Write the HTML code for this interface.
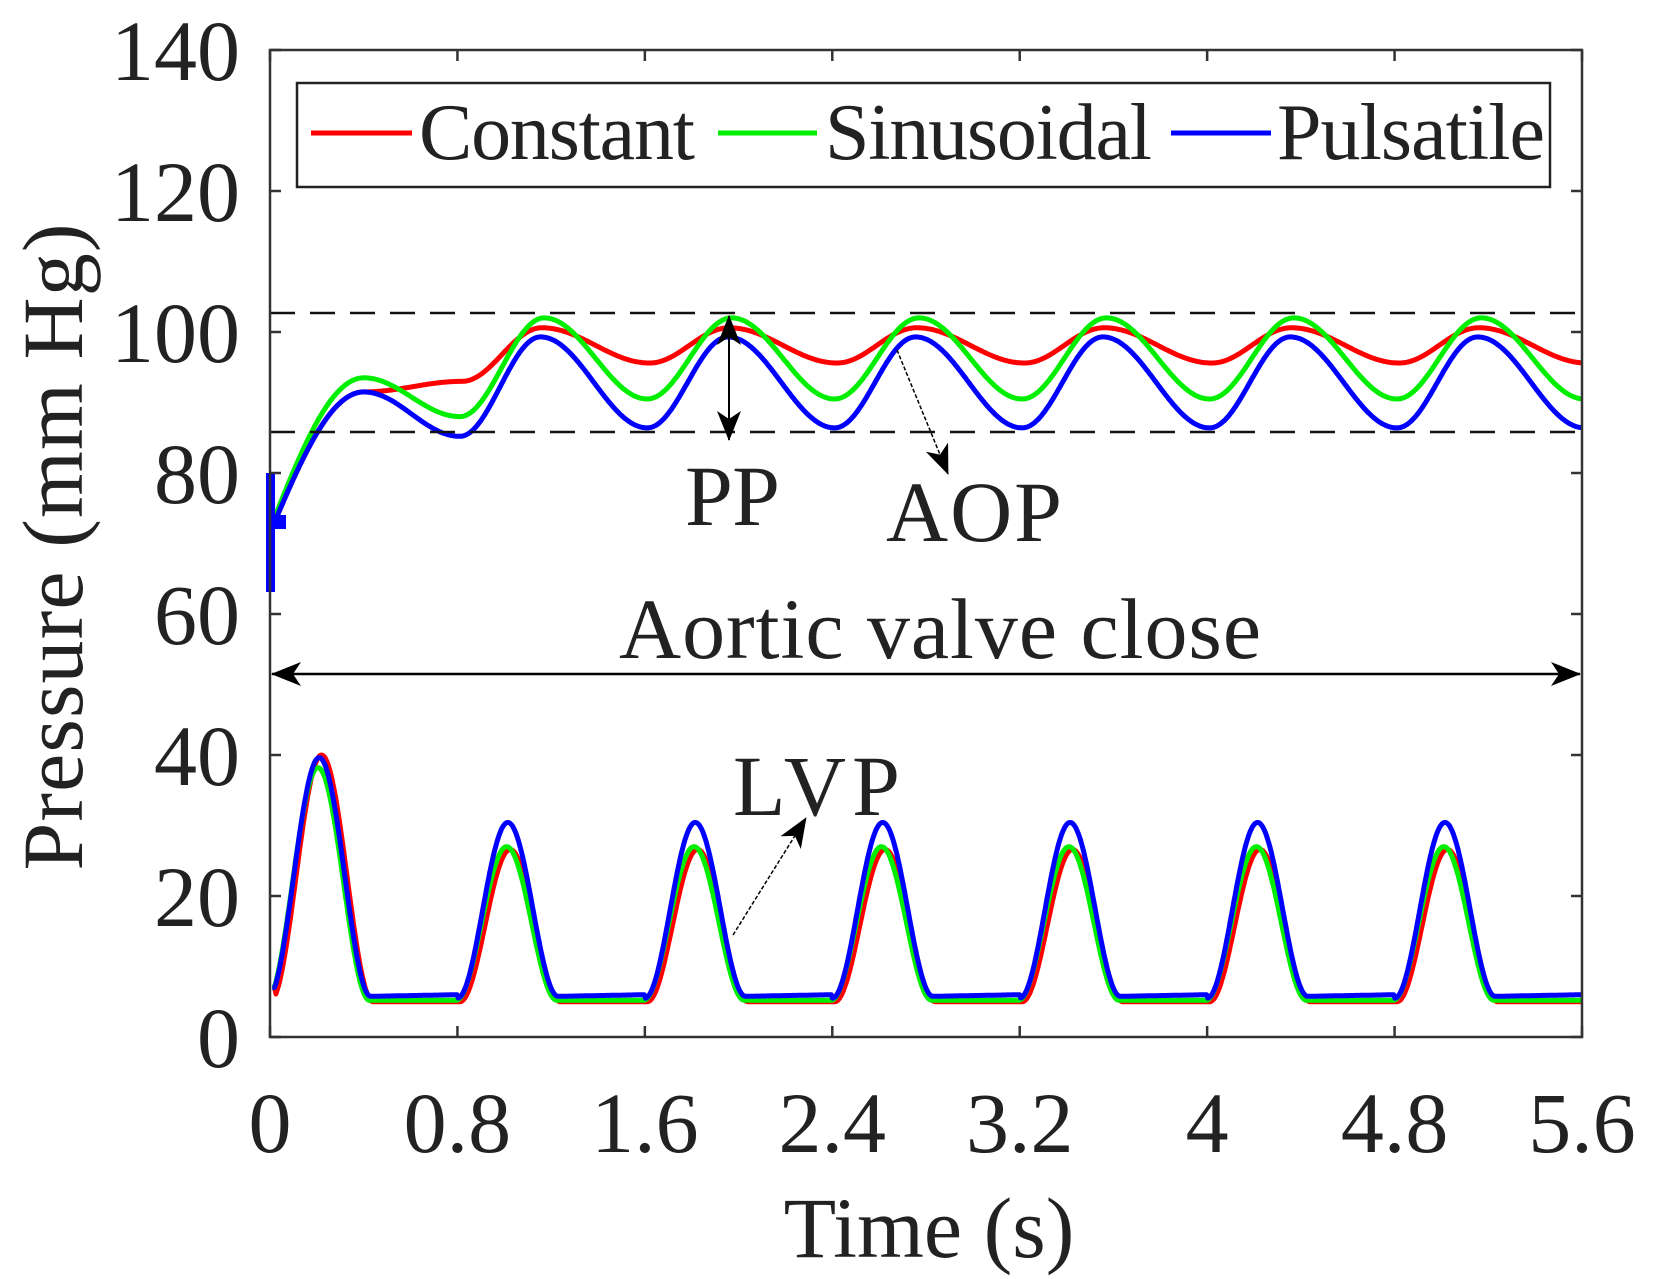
<!DOCTYPE html>
<html><head><meta charset="utf-8"><style>
html,body{margin:0;padding:0;background:#fff;}
svg{display:block;}
text{font-family:"Liberation Serif",serif;fill:#222;}
</style></head><body>
<svg id="s" width="1656" height="1279" viewBox="0 0 1656 1279" xmlns="http://www.w3.org/2000/svg">
<defs>
<marker id="ah" markerWidth="10" markerHeight="10" refX="9" refY="5" orient="auto" markerUnits="userSpaceOnUse" viewBox="0 0 10 10">
<path d="M0,0 L10,5 L0,10 L3,5 Z" fill="#000"/></marker>
<marker id="ahb" markerWidth="30" markerHeight="24" refX="29" refY="12" orient="auto" markerUnits="userSpaceOnUse" viewBox="0 0 30 24">
<path d="M0,0 L30,12 L0,24 L8,12 Z" fill="#000"/></marker>
<marker id="ahs" markerWidth="30" markerHeight="24" refX="1" refY="12" orient="auto" markerUnits="userSpaceOnUse" viewBox="0 0 30 24">
<path d="M30,0 L0,12 L30,24 L22,12 Z" fill="#000"/></marker>
</defs>
<g id="curves"></g>
<g id="axes"></g>
</svg>
<script>
var NS="http://www.w3.org/2000/svg";
var L=270,R=1582,T=50,B=1037;
function X(t){return L+t*(R-L)/5.6;}
function Y(v){return B-v*(B-T)/140;}
function el(tag,attrs,parent,txt){var e=document.createElementNS(NS,tag);for(var k in attrs)e.setAttribute(k,attrs[k]);if(txt!==undefined)e.textContent=txt;(parent||document.getElementById('s')).appendChild(e);return e;}
var cg=document.getElementById('curves'),ag=document.getElementById('axes');
function cosb(a,b,f){return a+(b-a)*(1-Math.cos(Math.PI*f))/2;}
// AOP
function aop(t,p){
  if(t<0.4){return p.s+(p.p0-p.s)*Math.sin(Math.PI/2*t/0.4);}
  if(t<p.t1){return cosb(p.p0,p.m0,(t-0.4)/(p.t1-0.4));}
  var u=t-p.t1;var k=Math.floor(u/0.8);var r=u-k*0.8;
  var lo=(k==0)?p.m0:p.mn;
  if(r<p.rise)return cosb(lo,p.mx,r/p.rise);
  return cosb(p.mx,p.mn,(r-p.rise)/(0.8-p.rise));
}
var ps={
 red:{s:71.5,p0:91.5,m0:93,t1:0.82,mn:95.6,mx:100.6,rise:0.34,c:'#ff0000'},
 green:{s:72,p0:93.5,m0:88,t1:0.81,mn:90.5,mx:102,rise:0.36,c:'#00ee00'},
 blue:{s:71.5,p0:91.5,m0:85.2,t1:0.81,mn:86.4,mx:99.3,rise:0.345,c:'#0000ff'}
};
function lvp(t,base,A1,A,dt){
  var v=base;
  var s0=-0.01+dt;
  if(t<s0+0.44){var f=(t-s0)/0.44; if(f<0)f=0; v=base+A1*(1-Math.cos(2*Math.PI*f))/2; if(t<0.02)v=Math.max(v,7);}
  for(var k=1;k<7;k++){var ts=0.8*k+dt;if(t>=ts&&t<=ts+0.43){var f2=(t-ts)/0.43;v=base+A*(1-Math.cos(2*Math.PI*f2))/2;}}
  return v;
}
var lv={red:[5.0,35,21.6,0.01],green:[5.2,33,21.8,-0.005],blue:[5.6,34,24.8,0]};
['red','green','blue'].forEach(function(n){
  var p=ps[n],d='',d2='';
  for(var i=0;i<=1120;i++){var t=0.01+i*(5.59/1120);
    d+=(i?'L':'M')+X(t).toFixed(1)+','+Y(aop(t,p)).toFixed(1);
    var q=lv[n];var lb=q[0];if(n=='blue'){var r=(t%0.8);lb=5.5+0.5*Math.min(r/0.8,1);}
    d2+=(i?'L':'M')+X(t).toFixed(1)+','+Y(lvp(t,lb,q[1],q[2],q[3])).toFixed(1);}
  el('path',{d:d,fill:'none',stroke:p.c,'stroke-width':5,'stroke-linejoin':'round'},cg);
  el('path',{d:d2,fill:'none',stroke:p.c,'stroke-width':5,'stroke-linejoin':'round'},cg);
});
el('rect',{x:266,y:473,width:9,height:119,fill:'#0000ff'},cg);
el('rect',{x:266,y:515,width:20,height:14,fill:'#0000ff'},cg);
// dashed
el('line',{x1:L,y1:313,x2:R,y2:313,stroke:'#111','stroke-width':2.5,'stroke-dasharray':'25,15'},ag);
el('line',{x1:L,y1:432,x2:R,y2:432,stroke:'#111','stroke-width':2.5,'stroke-dasharray':'25,15'},ag);
// axes box
el('rect',{x:L,y:T,width:R-L,height:B-T,fill:'none',stroke:'#333','stroke-width':2.5},ag);
for(var v=0;v<=140;v+=20){var y=Y(v);
  el('line',{x1:L,y1:y,x2:L+11,y2:y,stroke:'#333','stroke-width':2.5},ag);
  el('line',{x1:R,y1:y,x2:R-11,y2:y,stroke:'#333','stroke-width':2.5},ag);
  el('text',{x:240,y:y+30,'text-anchor':'end','font-size':86},ag,String(v));}
var xl=['0','0.8','1.6','2.4','3.2','4','4.8','5.6'];
for(var i=0;i<8;i++){var x=X(i*0.8);
  el('line',{x1:x,y1:B,x2:x,y2:B-11,stroke:'#333','stroke-width':2.5},ag);
  el('line',{x1:x,y1:T,x2:x,y2:T+11,stroke:'#333','stroke-width':2.5},ag);
  el('text',{x:x,y:1152,'text-anchor':'middle','font-size':86},ag,xl[i]);}
el('text',{x:929,y:1257,'text-anchor':'middle','font-size':86},ag,'Time (s)');
el('text',{x:0,y:0,'text-anchor':'middle','font-size':86,transform:'translate(82,547) rotate(-90)',textLength:647},ag,'Pressure (mm Hg)');
// legend
el('rect',{x:297,y:83,width:1253,height:104,fill:'#fff',stroke:'#222','stroke-width':2.5},ag);
[['#ff0000',311,412,'Constant',419,276],['#00ee00',718,817,'Sinusoidal',825,327],['#0000ff',1171,1271,'Pulsatile',1277,268]].forEach(function(a){
  el('line',{x1:a[1],y1:133,x2:a[2],y2:133,stroke:a[0],'stroke-width':5},ag);
  el('text',{x:a[4],y:159,'font-size':80,textLength:a[5],fill:'#111'},ag,a[3]);});
// annotations
el('line',{x1:729,y1:316,x2:729,y2:440,stroke:'#000','stroke-width':2,'marker-end':'url(#ahb)','marker-start':'url(#ahs)'},ag);
el('line',{x1:897,y1:350,x2:948,y2:474,stroke:'#000','stroke-width':1.5,'stroke-dasharray':'4,2','marker-end':'url(#ahb)'},ag);
el('line',{x1:733,y1:935,x2:806,y2:818,stroke:'#000','stroke-width':1.5,'stroke-dasharray':'4,2','marker-end':'url(#ahb)'},ag);
el('line',{x1:272,y1:674,x2:1580,y2:674,stroke:'#000','stroke-width':2.5,'marker-end':'url(#ahb)','marker-start':'url(#ahs)'},ag);
el('text',{x:685,y:525,'font-size':86,textLength:95,fill:'#000'},ag,'PP');
el('text',{x:886,y:541,'font-size':86,textLength:176,fill:'#000'},ag,'AOP');
el('text',{x:619,y:658,'font-size':86,textLength:642,fill:'#000'},ag,'Aortic valve close');
el('text',{x:733,y:815,'font-size':86,textLength:167,fill:'#000'},ag,'LVP');
</script>
</body></html>
